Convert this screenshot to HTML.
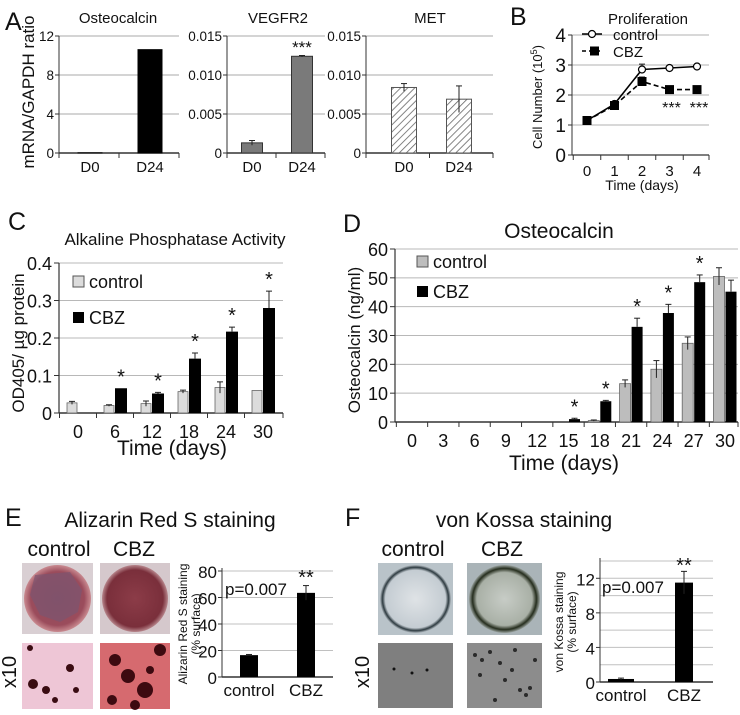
<!DOCTYPE html>
<html><head><meta charset="utf-8"><style>
html,body{margin:0;padding:0;background:#fff;}
svg{display:block;}
text{font-family:"Liberation Sans",sans-serif;fill:#111;}
.n{font-family:"Liberation Sans Narrow","Liberation Sans",sans-serif;}
</style></head><body>
<svg id="fig" width="740" height="715" viewBox="0 0 740 715" xmlns="http://www.w3.org/2000/svg">
<defs>
<pattern id="hatch" width="5" height="5" patternUnits="userSpaceOnUse" patternTransform="rotate(45)">
<rect width="5" height="5" fill="#fff"/><line x1="0" y1="0" x2="0" y2="5" stroke="#666" stroke-width="1.6"/></pattern>
<radialGradient id="dishRed" cx="50%" cy="50%" r="50%"><stop offset="0" stop-color="#8a4a5e"/><stop offset="0.8" stop-color="#9b4c5c"/><stop offset="1" stop-color="#c98a90"/></radialGradient>
<radialGradient id="dishRed2" cx="50%" cy="50%" r="50%"><stop offset="0" stop-color="#8c3c48"/><stop offset="0.85" stop-color="#7a2f3b"/><stop offset="1" stop-color="#b7868c"/></radialGradient>
<radialGradient id="dishGrey" cx="50%" cy="50%" r="50%"><stop offset="0" stop-color="#dfe3e6"/><stop offset="0.85" stop-color="#c4ccd2"/><stop offset="0.93" stop-color="#2d3a40"/><stop offset="1" stop-color="#b3bcc2"/></radialGradient>
<radialGradient id="dishGreen" cx="50%" cy="50%" r="50%"><stop offset="0" stop-color="#c7ccc6"/><stop offset="0.78" stop-color="#a9b0a6"/><stop offset="0.9" stop-color="#262e1e"/><stop offset="1" stop-color="#9aa39f"/></radialGradient>
</defs>
<g id="layer"></g>
</svg>
<script>
// ---------- data ----------
const aCats = ['D0', 'D24'];
const aOstVals = [0.02, 10.6];
const aVegfVals = [0.0013, 0.0124];
const aVegfErr = [0.0003, 0.0001];
const aMetVals = [0.0084, 0.0069];
const aMetErr = [0.0005, 0.0017];
const aOstTicks = [0, 4, 8, 12];
const aSmallTicks = [0, 0.005, 0.010, 0.015];
const aSmallTickLabels = ['0', '0.005', '0.010', '0.015'];

const bDays = [0, 1, 2, 3, 4];
const bControl = [1.15, 1.7, 2.85, 2.9, 2.95];
const bControlErr = [0.05, 0.08, 0.18, 0.08, 0.08];
const bCbz = [1.15, 1.65, 2.45, 2.18, 2.18];
const bCbzErr = [0.05, 0.08, 0.15, 0.04, 0.04];
const bTicks = [0, 1, 2, 3, 4];

const cDays = ['0', '6', '12', '18', '24', '30'];
const cControl = [0.027, 0.02, 0.025, 0.057, 0.068, 0.06];
const cControlErr = [0.004, 0.002, 0.007, 0.004, 0.015, 0];
const cCbz = [0, 0.066, 0.052, 0.145, 0.217, 0.28];
const cCbzErr = [0, 0, 0.003, 0.015, 0.012, 0.045];
const cStars = [false, true, true, true, true, true];
const cTicks = [0, 0.1, 0.2, 0.3, 0.4];
const cTickLabels = ['0', '0.1', '0.2', '0.3', '0.4'];

const dDays = ['0', '3', '6', '9', '12', '15', '18', '21', '24', '27', '30'];
const dControl = [0, 0, 0, 0, 0, 0, 0.5, 13.3, 18.3, 27.3, 50.5];
const dControlErr = [0, 0, 0, 0, 0, 0, 0.2, 1.3, 3, 2.2, 3];
const dCbz = [0, 0, 0, 0, 0, 1, 7.2, 33, 37.8, 48.5, 45.2];
const dCbzErr = [0, 0, 0, 0, 0, 0.3, 0.3, 3, 3, 2.5, 4];
const dStars = [false, false, false, false, false, true, true, true, true, true, false];
const dTicks = [0, 10, 20, 30, 40, 50, 60];

const eGroups = ['control', 'CBZ'];
const eVals = [16.5, 63.5];
const eErr = [0.5, 5.5];
const eTicks = [0, 20, 40, 60, 80];

const fGroups = ['control', 'CBZ'];
const fVals = [0.35, 11.5];
const fErr = [0.1, 1.3];
const fGrid = [2, 4, 6, 8, 10, 12, 14];
const fTicks = [0, 4, 8, 12];

// ---------- helpers ----------
const NS = 'http://www.w3.org/2000/svg';
const root = document.getElementById('layer');
function mk(tag, attrs, parent) {
  const e = document.createElementNS(NS, tag);
  for (const k in attrs) e.setAttribute(k, attrs[k]);
  (parent || root).appendChild(e);
  return e;
}
function txt(x, y, s, size, anchor, cls, parent) {
  const t = mk('text', {x: x, y: y, 'font-size': size, 'text-anchor': anchor || 'middle'}, parent);
  if (cls) t.setAttribute('class', cls);
  t.textContent = s;
  return t;
}
function line(x1, y1, x2, y2, color, w, parent) {
  return mk('line', {x1: x1, y1: y1, x2: x2, y2: y2, stroke: color, 'stroke-width': w || 1}, parent);
}
function errBar(x, yTop, yBot, parent) {
  const g = mk('g', {}, parent);
  line(x, yTop, x, yBot, '#222', 1, g);
  line(x - 3, yTop, x + 3, yTop, '#222', 1, g);
  return g;
}
function group(name) {
  const g = mk('g', {});
  
  
  return g;
}

// ---------- panel letters ----------
[['A', 5, 30], ['B', 510, 25], ['C', 8, 230], ['D', 343, 232], ['E', 5, 526], ['F', 345, 526]].forEach(function (p) {
  const t = txt(p[1], p[2], p[0], 25, 'start');
  
  
});

// ---------- Panel A ----------
function panelA(name, title, titleX, axX, xEnd, centers, barW, vals, errs, maxV, ticks, tickLabels, fill, stroke) {
  const g = group(name);
  const y0 = 153, yT = 36;
  const ys = function (v) { return y0 - v / maxV * (y0 - yT); };
  const t = txt(titleX, 23, title, 15, 'middle', null, g);
  
  
  ticks.forEach(function (v, i) {
    if (v > 0) line(axX, ys(v), xEnd, ys(v), '#a8a8a8', 1, g);
    line(axX - 4, ys(v), axX, ys(v), '#333', 1, g);
    const tl = txt(axX - 5, ys(v) + 5, tickLabels[i], 13.5, 'end', null, g);
    
    
  });
  line(axX, yT, axX, y0, '#333', 1, g);
  line(axX, y0, xEnd, y0, '#333', 1.5, g);
  const mid = (axX + xEnd) / 2;
  [axX, mid, xEnd].forEach(function (x) { line(x, y0, x, y0 + 5, '#333', 1, g); });
  vals.forEach(function (v, i) {
    const r = mk('rect', {x: centers[i] - barW / 2, y: ys(v), width: barW, height: y0 - ys(v), fill: fill, stroke: stroke, 'stroke-width': 1}, g);
    
    
    if (errs && errs[i] > 0) errBar(centers[i], ys(v + errs[i]), ys(v - errs[i]), g);
    const xl = txt(centers[i], 172, aCats[i], 15, 'middle', null, g);
    
    
  });
  return {g: g, ys: ys};
}
panelA('chart-a-osteocalcin', 'Osteocalcin', 118, 59, 179, [90, 150], 24, aOstVals, null, 12, aOstTicks, ['0', '4', '8', '12'], '#000', '#000');
const veg = panelA('chart-a-vegfr2', 'VEGFR2', 278, 227, 325, [252, 302], 21, aVegfVals, aVegfErr, 0.015, aSmallTicks, aSmallTickLabels, '#7a7a7a', '#333');
const vs = txt(302, 53, '***', 17, 'middle', null, veg.g);


panelA('chart-a-met', 'MET', 430, 366, 493, [404, 459], 25, aMetVals, aMetErr, 0.015, aSmallTicks, aSmallTickLabels, 'url(#hatch)', '#555');
const aY = txt(0, 0, 'mRNA/GAPDH ratio', 17, 'middle');
aY.setAttribute('transform', 'translate(34,92) rotate(-90)');



// ---------- Panel B ----------
(function () {
  const g = group('chart-b-proliferation');
  const axX = 572, y0 = 155, yT = 35, xEnd = 709;
  const ys = function (v) { return y0 - v / 4 * (y0 - yT); };
  const xs = function (d) { return 587 + d * 27.5; };
  const t = txt(648, 24, 'Proliferation', 15, 'middle', null, g);
  
  
  bTicks.forEach(function (v) {
    if (v > 0) line(axX, ys(v), xEnd, ys(v), '#b0b0b0', 1, g);
    line(axX - 4, ys(v), axX, ys(v), '#333', 1, g);
    const tl = txt(axX - 6, ys(v) + 7, String(v), 19, 'end', null, g);
    
    
  });
  line(axX, yT, axX, y0, '#333', 1, g);
  line(axX, y0, xEnd, y0, '#333', 1.2, g);
  bDays.forEach(function (d) {
    line(xs(d) - 13.75, y0, xs(d) - 13.75, y0 + 5, '#333', 1, g);
    const xl = txt(xs(d), 176, String(d), 15, 'middle', null, g);
    
    
  });
  line(xEnd, y0, xEnd, y0 + 5, '#333', 1, g);
  const xt = txt(642, 190, 'Time (days)', 14, 'middle', 'n', g);
  
  
  const yt = txt(0, 0, 'Cell Number (10', 13, 'middle', null, g);
  const sup = mk('tspan', {'font-size': 9, dy: -5}, yt); sup.textContent = '5';
  const cl = mk('tspan', {dy: 5}, yt); cl.textContent = ')';
  yt.setAttribute('transform', 'translate(542,97) rotate(-90)');
  
  
  const pc = mk('polyline', {points: bDays.map(function (d, i) { return xs(d) + ',' + ys(bCbz[i]); }).join(' '), fill: 'none', stroke: '#000', 'stroke-width': 1.6, 'stroke-dasharray': '5,3'}, g);
  
  
  const pl = mk('polyline', {points: bDays.map(function (d, i) { return xs(d) + ',' + ys(bControl[i]); }).join(' '), fill: 'none', stroke: '#000', 'stroke-width': 1.6}, g);
  
  
  bDays.forEach(function (d, i) {
    errBar(xs(d), ys(bControl[i] + bControlErr[i]), ys(bControl[i]), g);
    const c = mk('circle', {cx: xs(d), cy: ys(bControl[i]), r: 3.5, fill: '#fff', stroke: '#000', 'stroke-width': 1.2}, g);
    
    
    errBar(xs(d), ys(bCbz[i] + bCbzErr[i]), ys(bCbz[i]), g);
    const s = mk('rect', {x: xs(d) - 4.5, y: ys(bCbz[i]) - 4.5, width: 9, height: 9, fill: '#000'}, g);
    
    
  });
  [3, 4].forEach(function (d) {
    const st = txt(xs(d) + 2, 113, '***', 16, 'middle', null, g);
    
    
  });
  const lg = mk('g', {}, g);
  
  
  line(582, 34, 602, 34, '#000', 1.4, lg);
  mk('circle', {cx: 592, cy: 34, r: 3.5, fill: '#fff', stroke: '#000', 'stroke-width': 1.2}, lg);
  txt(613, 40, 'control', 15, 'start', null, lg);
  line(582, 51, 602, 51, '#000', 1.4, lg).setAttribute('stroke-dasharray', '4,3');
  mk('rect', {x: 590, y: 46.5, width: 9, height: 9, fill: '#000'}, lg);
  txt(613, 57, 'CBZ', 15, 'start', null, lg);
})();

// ---------- grouped bar chart helper (C, D) ----------
function grouped(name, cfg) {
  const g = group(name);
  const ys = function (v) { return cfg.y0 - v / cfg.maxV * (cfg.y0 - cfg.yT); };
  const xs = function (i) { return cfg.x0 + i * cfg.step; };
  cfg.ticks.forEach(function (v, i) {
    if (v > 0) line(cfg.axX, ys(v), cfg.xEnd, ys(v), '#b8b8b8', 1, g);
    line(cfg.axX - 5, ys(v), cfg.axX, ys(v), '#333', 1, g);
    const tl = txt(cfg.axX - 7, ys(v) + 7, cfg.tickLabels[i], cfg.tickSize, 'end', 'n', g);
    
    
  });
  line(cfg.axX, cfg.yT, cfg.axX, cfg.y0, '#333', 1.2, g);
  line(cfg.axX, cfg.y0, cfg.xEnd, cfg.y0, '#333', 1.5, g);
  cfg.cats.forEach(function (c, i) {
    line(xs(i) - cfg.step / 2, cfg.y0, xs(i) - cfg.step / 2, cfg.y0 + 5, '#333', 1, g);
    const xl = txt(xs(i), cfg.y0 + 25, c, cfg.tickSize, 'middle', 'n', g);
    
    
    const v1 = cfg.ctrl[i], v2 = cfg.cbz[i];
    if (v1 > 0) {
      const r = mk('rect', {x: xs(i) + cfg.off1 - cfg.w1 / 2, y: ys(v1), width: cfg.w1, height: cfg.y0 - ys(v1), fill: cfg.ctrlFill, stroke: '#666', 'stroke-width': 0.8}, g);
      
      
      if (cfg.ctrlErr[i] > 0) errBar(xs(i) + cfg.off1, ys(v1 + cfg.ctrlErr[i]), ys(Math.max(0, v1 - cfg.ctrlErr[i])), g);
    }
    if (v2 > 0) {
      const r2 = mk('rect', {x: xs(i) + cfg.off2 - cfg.w2 / 2, y: ys(v2), width: cfg.w2, height: cfg.y0 - ys(v2), fill: '#000'}, g);
      
      
      if (cfg.cbzErr[i] > 0) errBar(xs(i) + cfg.off2, ys(v2 + cfg.cbzErr[i]), ys(v2), g);
    }
    if (cfg.stars[i]) {
      const top = Math.max(v1 + cfg.ctrlErr[i], v2 + cfg.cbzErr[i]);
      const st = txt(xs(i) + cfg.off2, ys(top) - 5, '*', 20, 'middle', null, g);
      
      
    }
  });
  line(cfg.xEnd, cfg.y0, cfg.xEnd, cfg.y0 + 5, '#333', 1, g);
  const t = txt(cfg.titleX, cfg.titleY, cfg.title, cfg.titleSize, 'middle', 'n', g);
  
  
  const xt = txt(cfg.xtX, cfg.xtY, 'Time (days)', 21, 'middle', 'n', g);
  
  
  const yt = txt(0, 0, cfg.ytitle, 17, 'middle', null, g);
  yt.setAttribute('transform', 'translate(' + cfg.ytX + ',' + cfg.ytY + ') rotate(-90)');
  
  
  const lg = mk('g', {}, g);
  
  
  mk('rect', {x: cfg.lgX, y: cfg.lgY1 - 6, width: 11, height: 11, fill: cfg.ctrlFill, stroke: '#555', 'stroke-width': 1}, lg);
  txt(cfg.lgX + 16, cfg.lgY1 + 6, 'control', 18, 'start', 'n', lg);
  mk('rect', {x: cfg.lgX, y: cfg.lgY2 - 6, width: 11, height: 11, fill: '#000'}, lg);
  txt(cfg.lgX + 16, cfg.lgY2 + 6, 'CBZ', 18, 'start', 'n', lg);
}
grouped('chart-c-alkaline-phosphatase', {
  axX: 59, y0: 413, yT: 263, xEnd: 283, maxV: 0.4, x0: 78, step: 37, cats: cDays,
  ctrl: cControl, ctrlErr: cControlErr, cbz: cCbz, cbzErr: cCbzErr, stars: cStars,
  ticks: cTicks, tickLabels: cTickLabels, tickSize: 18, off1: -6, off2: 6, w1: 10, w2: 12,
  ctrlFill: '#dcdcdc', title: 'Alkaline Phosphatase Activity', titleX: 175, titleY: 245, titleSize: 17,
  xtX: 172, xtY: 455, ytitle: 'OD405/ \u00b5g protein', ytX: 24, ytY: 343, lgX: 73, lgY1: 282, lgY2: 318
});
grouped('chart-d-osteocalcin', {
  axX: 395, y0: 422, yT: 249, xEnd: 738, maxV: 60, x0: 412, step: 31.3, cats: dDays,
  ctrl: dControl, ctrlErr: dControlErr, cbz: dCbz, cbzErr: dCbzErr, stars: dStars,
  ticks: dTicks, tickLabels: dTicks.map(String), tickSize: 18, off1: -6, off2: 6, w1: 11, w2: 11,
  ctrlFill: '#bdbdbd', title: 'Osteocalcin', titleX: 559, titleY: 238, titleSize: 21,
  xtX: 564, xtY: 470, ytitle: 'Osteocalcin (ng/ml)', ytX: 360, ytY: 340, lgX: 417, lgY1: 262, lgY2: 292
});

// ---------- staining bar charts (E, F) ----------
function stainChart(name, groups, vals, errs, axX, y0, topV, yTopPx, xEnd, grid, ticks, centers, barW, pX, pY, starY, t1, t2, t1X, t2X, tY) {
  const g = group(name);
  const ys = function (v) { return y0 - v / topV * (y0 - yTopPx); };
  grid.forEach(function (v) { line(axX, ys(v), xEnd, ys(v), '#c0c0c0', 1, g); });
  ticks.forEach(function (v) {
    line(axX - 4, ys(v), axX, ys(v), '#333', 1, g);
    const tl = txt(axX - 5, ys(v) + 7, String(v), 17, 'end', 'n', g);
    
    
  });
  line(axX, yTopPx - 3, axX, y0, '#333', 1, g);
  line(axX, y0, xEnd, y0, '#333', 1.5, g);
  groups.forEach(function (c, i) {
    const r = mk('rect', {x: centers[i] - barW[i] / 2, y: ys(vals[i]), width: barW[i], height: y0 - ys(vals[i]), fill: '#000'}, g);
    
    
    if (errs[i] > 0) errBar(centers[i], ys(vals[i] + errs[i]), ys(vals[i] - errs[i]), g);
    const xl = txt(centers[i], y0 + 19, c, 17, 'middle', 'n', g);
    
    
  });
  const p = txt(pX, pY, 'p=0.007', 17, 'middle', 'n', g);
  
  
  const s = txt(centers[1], starY, '**', 20, 'middle', null, g);
  
  
  const y1 = txt(0, 0, t1, 12, 'middle', null, g);
  y1.setAttribute('transform', 'translate(' + t1X + ',' + tY + ') rotate(-90)');
  
  
  const y2 = txt(0, 0, t2, 12, 'middle', null, g);
  y2.setAttribute('transform', 'translate(' + t2X + ',' + tY + ') rotate(-90)');
  
  
}
stainChart('chart-e-alizarin', eGroups, eVals, eErr, 222, 677, 80, 571, 333, eTicks.slice(1), eTicks, [249, 306], [18, 18], 256, 595, 584, 'Alizarin Red S staining', '(% surface)', 187, 200, 624);
stainChart('chart-f-von-kossa', fGroups, fVals, fErr, 600, 682, 14, 561, 713, fGrid, fTicks, [621, 684], [26, 18], 633, 593, 572, 'von Kossa staining', '(% surface)', 563, 576, 622);

// ---------- titles / labels E, F ----------
[['Alizarin Red S staining', 170, 527, 'panel-e-title'], ['von Kossa staining', 524, 527, 'panel-f-title']].forEach(function (a) {
  const t = txt(a[1], a[2], a[0], 21, 'middle', 'n');
  
  
});
[['control', 59], ['CBZ', 134], ['control', 413], ['CBZ', 502]].forEach(function (a) {
  const t = txt(a[1], 556, a[0], 21, 'middle', 'n');
  
  
});
[[16, 672], [369, 672]].forEach(function (a) {
  const t = txt(0, 0, 'x10', 20, 'middle');
  t.setAttribute('transform', 'translate(' + a[0] + ',' + a[1] + ') rotate(-90)');
  
  
});

// ---------- photo placeholders ----------
function dish(name, x, y, w, h, bg, grad) {
  const g = group(name);
  mk('rect', {x: x, y: y, width: w, height: h, fill: bg}, g);
  mk('ellipse', {cx: x + w / 2, cy: y + h / 2, rx: w / 2 - 2, ry: h / 2 - 2, fill: grad}, g);
  return g;
}
const d1 = dish('photo-e-control-dish', 22, 563, 71, 71, '#d9cfd3', 'url(#dishRed)');
mk('path', {d: 'M35 575 L70 572 L82 590 L78 612 L60 622 L40 615 L30 595 Z', fill: '#7c5670', opacity: 0.7}, d1);
dish('photo-e-cbz-dish', 100, 563, 70, 71, '#d5c8cc', 'url(#dishRed2)');
dish('photo-f-control-dish', 378, 563, 75, 72, '#b9c3c9', 'url(#dishGrey)');
dish('photo-f-cbz-dish', 467, 563, 75, 72, '#aab4b8', 'url(#dishGreen)');

const eb1 = group('photo-e-control-x10');
mk('rect', {x: 22, y: 643, width: 71, height: 66, fill: '#eec6d6'}, eb1);
[[33, 684, 5], [46, 690, 4], [70, 668, 4], [55, 700, 3], [30, 648, 3], [76, 690, 3]].forEach(function (b) { mk('circle', {cx: b[0], cy: b[1], r: b[2], fill: '#3a0c12'}, eb1); });
const eb2 = group('photo-e-cbz-x10');
mk('rect', {x: 100, y: 643, width: 70, height: 66, fill: '#d66a6f'}, eb2);
[[115, 660, 6], [128, 676, 7], [145, 690, 8], [160, 650, 6], [112, 700, 5], [135, 705, 5], [150, 670, 4]].forEach(function (b) { mk('circle', {cx: b[0], cy: b[1], r: b[2], fill: '#3d0a10'}, eb2); });
const fb1 = group('photo-f-control-x10');
mk('rect', {x: 378, y: 643, width: 75, height: 65, fill: '#7f7f7f'}, fb1);
[[394, 669], [412, 673], [427, 670]].forEach(function (b) { mk('circle', {cx: b[0], cy: b[1], r: 1.5, fill: '#111'}, fb1); });
const fb2 = group('photo-f-cbz-x10');
mk('rect', {x: 467, y: 643, width: 75, height: 65, fill: '#8c8c8c'}, fb2);
[[475, 655], [482, 660], [490, 652], [500, 663], [512, 670], [520, 690], [526, 695], [530, 688], [505, 680], [495, 700], [480, 675], [535, 660], [515, 650]].forEach(function (b) { mk('circle', {cx: b[0], cy: b[1], r: 2, fill: '#2a2a2a'}, fb2); });
</script>
</body></html>
